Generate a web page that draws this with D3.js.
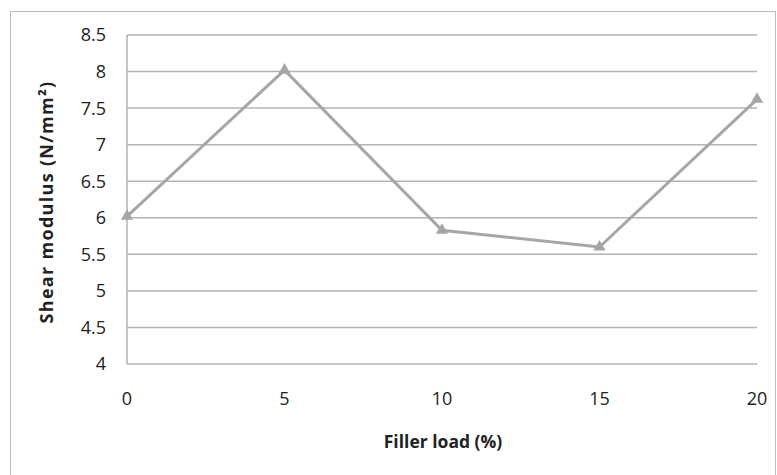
<!DOCTYPE html>
<html>
<head>
<meta charset="utf-8">
<script src="https://cdn.jsdelivr.net/npm/d3@7"></script>
<style>
  body { margin: 0; background: #fff; }
  text { font-family: "Open Sans", "Noto Sans", sans-serif; fill: #222; }
</style>
</head>
<body>
<div id="chart"></div>
<script>
// data
const fillerLoad = [0, 5, 10, 15, 20];
const shearModulus = [6.02, 8.02, 5.83, 5.6, 7.62];
const yTicks = [4, 4.5, 5, 5.5, 6, 6.5, 7, 7.5, 8, 8.5];
const xTicks = [0, 5, 10, 15, 20];

const width = 777, height = 475;
const plot = { left: 127, right: 757, top: 35, bottom: 364 };

const svg = d3.select("#chart").append("svg")
    .attr("width", width)
    .attr("height", height);

// outer chart border
svg.append("rect")
    .attr("x", 10.5).attr("y", 11.5)
    .attr("width", 765).attr("height", 470)
    .attr("fill", "none")
    .attr("stroke", "#bdbdbd")
    .attr("stroke-width", 1);

const x = d3.scaleLinear().domain([0, 20]).range([plot.left, plot.right]);
const y = d3.scaleLinear().domain([4, 8.5]).range([plot.bottom, plot.top]);

// gridlines
svg.append("g")
    .selectAll("line")
    .data(yTicks)
    .enter()
    .append("line")
    .attr("x1", plot.left).attr("x2", plot.right)
    .attr("y1", d => y(d)).attr("y2", d => y(d))
    .attr("stroke", "#b3b3b3")
    .attr("stroke-width", 1.5);

// left axis line
svg.append("line")
    .attr("x1", plot.left).attr("x2", plot.left)
    .attr("y1", plot.top).attr("y2", plot.bottom)
    .attr("stroke", "#b3b3b3")
    .attr("stroke-width", 1.5);

// y tick labels
svg.append("g")
    .selectAll("text")
    .data(yTicks)
    .enter()
    .append("text")
    .attr("x", 106)
    .attr("y", d => y(d))
    .attr("dy", "0.36em")
    .attr("text-anchor", "end")
    .style("font-size", "18px")
    .text(d => d);

// x tick labels
svg.append("g")
    .selectAll("text")
    .data(xTicks)
    .enter()
    .append("text")
    .attr("x", d => x(d))
    .attr("y", 399)
    .attr("dy", "0.36em")
    .attr("text-anchor", "middle")
    .style("font-size", "18px")
    .text(d => d);

// axis titles
svg.append("text")
    .attr("x", 443)
    .attr("y", 442)
    .attr("dy", "0.36em")
    .attr("text-anchor", "middle")
    .style("font-size", "17.5px")
    .style("font-weight", "bold")
    .text("Filler load (%)");

svg.append("text")
    .attr("transform", `translate(47,202) rotate(-90)`)
    .attr("dy", "0.36em")
    .attr("text-anchor", "middle")
    .style("font-size", "18px")
    .style("font-weight", "bold")
    .style("letter-spacing", "1.3px")
    .text("Shear modulus (N/mm²)");

// series line
const pts = fillerLoad.map((d, i) => [d, shearModulus[i]]);
svg.append("path")
    .datum(pts)
    .attr("d", d3.line().x(d => x(d[0])).y(d => y(d[1])))
    .attr("fill", "none")
    .attr("stroke", "#a6a6a6")
    .attr("stroke-width", 3);

// triangle markers
svg.append("g")
    .selectAll("path")
    .data(pts)
    .enter()
    .append("path")
    .attr("transform", d => `translate(${x(d[0])},${y(d[1])})`)
    .attr("d", d3.symbol().type(d3.symbolTriangle).size(65))
    .attr("fill", "#a6a6a6");
</script>
</body>
</html>
